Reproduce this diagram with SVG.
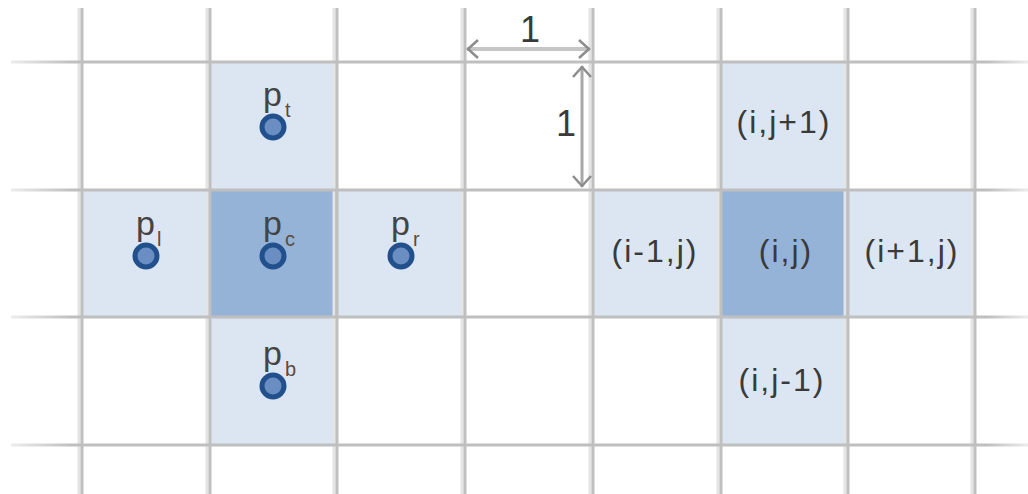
<svg xmlns="http://www.w3.org/2000/svg" width="1028" height="494" viewBox="0 0 1028 494">
  <style>
    .light { fill: #dce6f2; }
    .dark { fill: #95b3d7; }
    .vline { stroke: #bfbfbf; stroke-width: 3; fill: none; }
    .vshade { stroke: #e4e4e4; stroke-width: 3; fill: none; }
    .hline { stroke: url(#hfade); stroke-width: 3; fill: none; }
    .lbl { font-family: "Liberation Sans", Arial, sans-serif; font-size: 32px; fill: #3a3a3a; text-anchor: middle; letter-spacing: 2px; }
    .pt { fill: #6a8ec2; stroke: #22508c; stroke-width: 5; }
    .pm { font-family: "Liberation Sans", Arial, sans-serif; font-size: 34px; fill: #444444; }
    .ps { font-size: 20px; fill: #5a4a40; }
    .dim { font-family: "Liberation Sans", Arial, sans-serif; font-size: 36px; fill: #3a3a3a; text-anchor: middle; }
  </style>
  <defs>
    <linearGradient id="hfade" gradientUnits="userSpaceOnUse" x1="11" y1="0" x2="1028" y2="0">
      <stop offset="0" stop-color="#ececec"/>
      <stop offset="0.06" stop-color="#bfbfbf"/>
      <stop offset="0.96" stop-color="#bfbfbf"/>
      <stop offset="1" stop-color="#ececec"/>
    </linearGradient>
    <marker id="chev" viewBox="-14 -11 16 22" markerWidth="16" markerHeight="22" refX="0" refY="0" orient="auto-start-reverse" markerUnits="userSpaceOnUse">
      <path d="M-11,-9 L-1,0 L-11,9" fill="none" stroke="#8c8c8c" stroke-width="2.5"/>
    </marker>
  </defs>

  <g id="cells">
    <rect class="light" x="210" y="62" width="127" height="128"/>
    <rect class="light" x="82" y="190" width="128" height="127"/>
    <rect class="dark" x="210" y="190" width="127" height="127"/>
    <rect class="light" x="337" y="190" width="128" height="127"/>
    <rect class="light" x="210" y="317" width="127" height="128"/>
    <rect class="light" x="721" y="62" width="127" height="128"/>
    <rect class="light" x="593" y="190" width="128" height="127"/>
    <rect class="dark" x="721" y="190" width="127" height="127"/>
    <rect class="light" x="848" y="190" width="127" height="127"/>
    <rect class="light" x="721" y="317" width="127" height="128"/>
  </g>

  <g id="grid">
    <g class="vshade">
      <line x1="79" y1="8" x2="79" y2="494"/>
      <line x1="207" y1="8" x2="207" y2="494"/>
      <line x1="334" y1="8" x2="334" y2="494"/>
      <line x1="462" y1="8" x2="462" y2="494"/>
      <line x1="590" y1="8" x2="590" y2="494"/>
      <line x1="718" y1="8" x2="718" y2="494"/>
      <line x1="845" y1="8" x2="845" y2="494"/>
      <line x1="972" y1="8" x2="972" y2="494"/>
    </g>
    <g class="vline">
      <line x1="82" y1="8" x2="82" y2="494"/>
      <line x1="210" y1="8" x2="210" y2="494"/>
      <line x1="337" y1="8" x2="337" y2="494"/>
      <line x1="465" y1="8" x2="465" y2="494"/>
      <line x1="593" y1="8" x2="593" y2="494"/>
      <line x1="721" y1="8" x2="721" y2="494"/>
      <line x1="848" y1="8" x2="848" y2="494"/>
      <line x1="975" y1="8" x2="975" y2="494"/>
    </g>
    <g class="hline">
      <line x1="11" y1="62" x2="1028" y2="62"/>
      <line x1="11" y1="190" x2="1028" y2="190"/>
      <line x1="11" y1="317" x2="1028" y2="317"/>
      <line x1="11" y1="445" x2="1028" y2="445"/>
    </g>
  </g>

  <g id="connectors">
    <line x1="467" y1="49" x2="590" y2="49" stroke="#c6c6c6" stroke-width="4" marker-start="url(#chev)" marker-end="url(#chev)"/>
    <line x1="582" y1="66" x2="582" y2="187" stroke="#a8a8a8" stroke-width="3" marker-start="url(#chev)" marker-end="url(#chev)"/>
  </g>

  <g id="dimension-labels">
    <text class="dim" x="530" y="42">1</text>
    <text class="dim" x="566" y="136">1</text>
  </g>

  <g id="point-t">
    <text class="pm" x="263" y="106">p<tspan class="ps" x="285" y="117">t</tspan></text>
    <circle class="pt" cx="273" cy="127" r="11"/>
  </g>
  <g id="point-l">
    <text class="pm" x="136" y="235">p<tspan class="ps" x="157" y="246">l</tspan></text>
    <circle class="pt" cx="146" cy="256" r="11"/>
  </g>
  <g id="point-c">
    <text class="pm" x="263" y="235">p<tspan class="ps" x="285" y="246">c</tspan></text>
    <circle class="pt" cx="273" cy="256" r="11"/>
  </g>
  <g id="point-r">
    <text class="pm" x="391" y="235">p<tspan class="ps" x="413" y="246">r</tspan></text>
    <circle class="pt" cx="401" cy="256" r="11"/>
  </g>
  <g id="point-b">
    <text class="pm" x="263" y="365">p<tspan class="ps" x="285" y="376">b</tspan></text>
    <circle class="pt" cx="273" cy="386" r="11"/>
  </g>

  <g id="cell-labels">
    <text class="lbl" x="784" y="133">(i,j+1)</text>
    <text class="lbl" x="655" y="262">(i-1,j)</text>
    <text class="lbl" x="786" y="262">(i,j)</text>
    <text class="lbl" x="912" y="262">(i+1,j)</text>
    <text class="lbl" x="782" y="391">(i,j-1)</text>
  </g>
</svg>
